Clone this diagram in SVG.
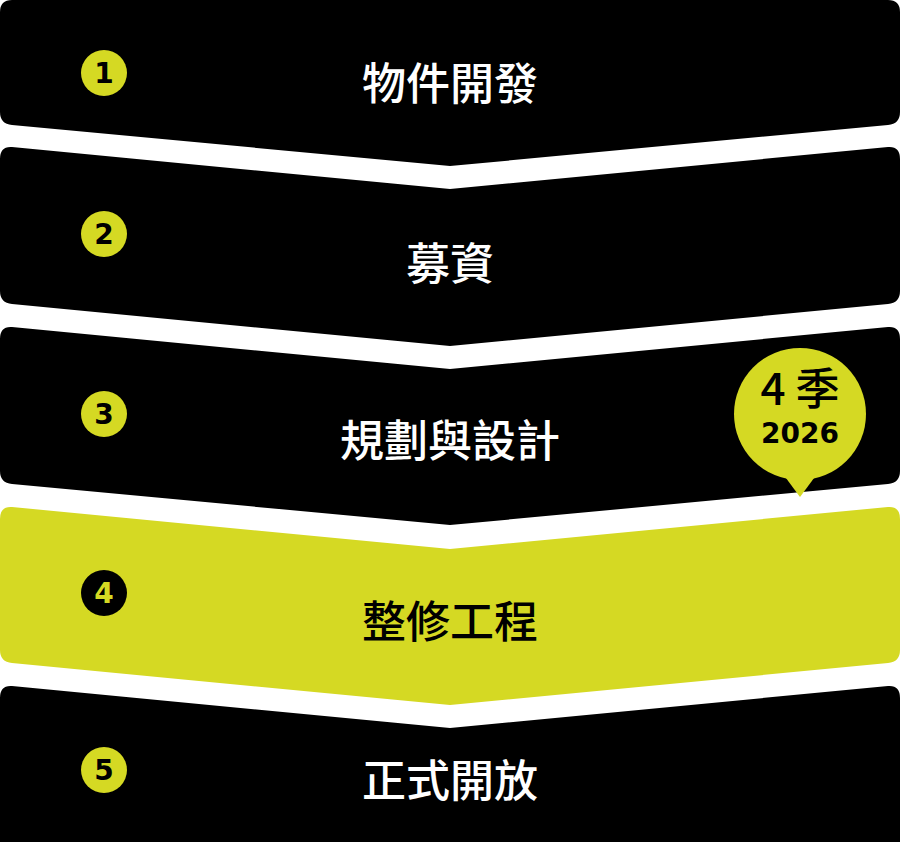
<svg xmlns="http://www.w3.org/2000/svg" width="900" height="842" viewBox="0 0 900 842">
<style>
.b{fill:#000}.y{fill:#d5d923}
.t{font-family:"Noto Sans CJK TC","Noto Sans CJK SC",sans-serif;font-weight:500;font-size:44px;text-anchor:middle}
.n{font-family:"DejaVu Sans",sans-serif;font-weight:700;font-size:28px;text-anchor:middle}
</style>
<rect width="900" height="842" fill="#fff"/>
<g id="step1">
<path class="b" d="M0,12 Q0,0 12,0 L888,0 Q900,0 900,12 L900,112 Q900,124 888,125 L450,166 L12,125 Q0,124 0,112 Z"/>
<circle class="y" cx="104" cy="73" r="23"/><text class="n" x="104" y="83">1</text>
<text class="t" x="450" y="100" fill="#fff">物件開發</text>
</g>
<g id="step2">
<path class="b" d="M12,147 L450,189 L888,147 Q900,146 900,159 L900,291 Q900,303 888,304 L450,346 L12,304 Q0,303 0,291 L0,159 Q0,146 12,147 Z"/>
<circle class="y" cx="104" cy="234" r="23"/><text class="n" x="104" y="244">2</text>
<text class="t" x="450" y="280" fill="#fff">募資</text>
</g>
<g id="step3">
<path class="b" d="M12,327 L450,369 L888,327 Q900,326 900,339 L900,471 Q900,483 888,484 L450,525 L12,484 Q0,483 0,471 L0,339 Q0,326 12,327 Z"/>
<circle class="y" cx="104" cy="414" r="23"/><text class="n" x="104" y="424">3</text>
<text class="t" x="450" y="457" fill="#fff">規劃與設計</text>
</g>
<g id="step4">
<path class="y" d="M12,507 L450,549 L888,507 Q900,506 900,519 L900,650 Q900,662 888,663 L450,705 L12,663 Q0,662 0,650 L0,519 Q0,506 12,507 Z"/>
<circle class="b" cx="104" cy="593" r="23"/><text class="n" x="104" y="603" fill="#d5d923">4</text>
<text class="t" x="450" y="638" fill="#000">整修工程</text>
</g>
<g id="step5">
<path class="b" d="M12,686 L450,728 L888,686 Q900,685 900,698 L900,842 L0,842 L0,698 Q0,685 12,686 Z"/>
<circle class="y" cx="104" cy="770" r="23"/><text class="n" x="104" y="780">5</text>
<text class="t" x="450" y="797" fill="#fff">正式開放</text>
</g>
<g id="badge">
<circle class="y" cx="800" cy="414" r="66"/>
<path class="y" d="M780,470 L800,497 L820,470 Z"/>
<text class="t" x="800" y="405" font-size="27" fill="#000">4 季</text>
<text class="n" x="800" y="443" font-size="28" fill="#000">2026</text>
</g>
</svg>
